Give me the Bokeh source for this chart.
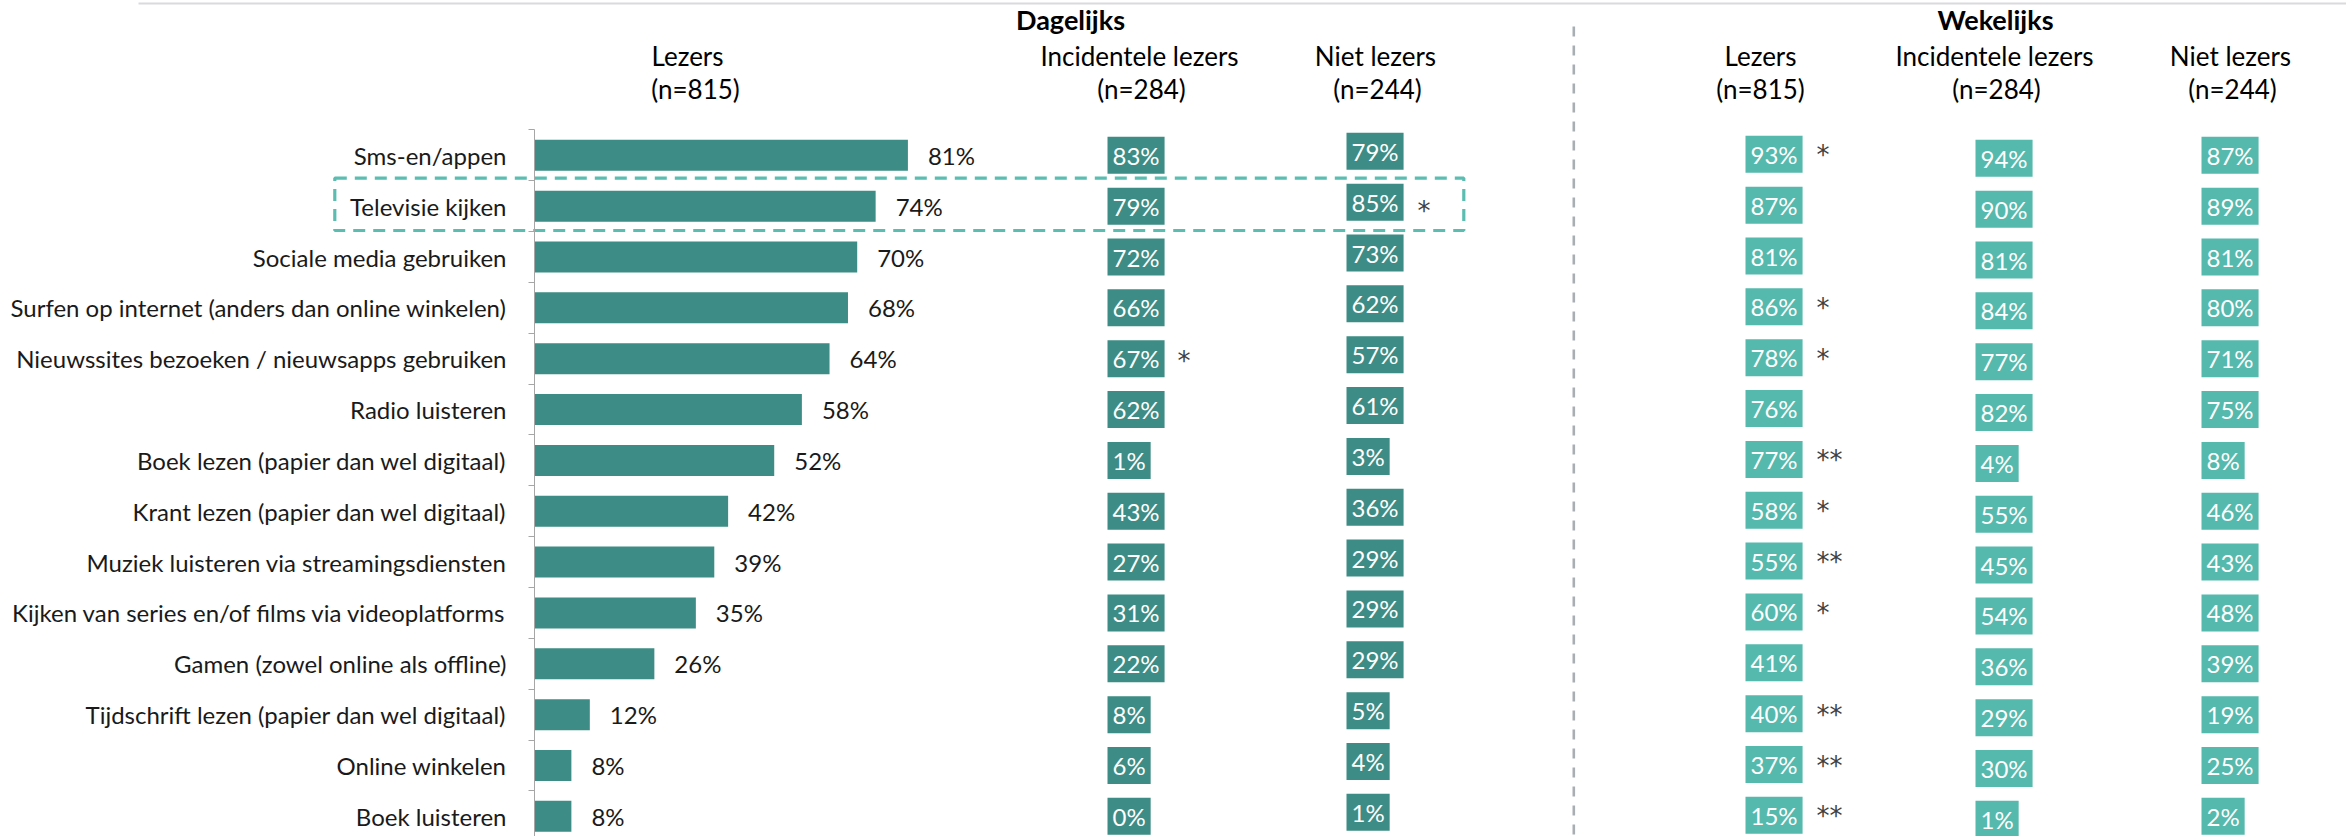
from bokeh.plotting import figure
from bokeh.models import Range1d, LinearAxis, FixedTicker, ColumnDataSource
from bokeh.core.properties import value
from bokeh.embed import file_html
from bokeh.resources import INLINE

# ---------------- data ----------------
categories = [
    "Sms-en/appen",
    "Televisie kijken",
    "Sociale media gebruiken",
    "Surfen op internet (anders dan online winkelen)",
    "Nieuwssites bezoeken / nieuwsapps gebruiken",
    "Radio luisteren",
    "Boek lezen (papier dan wel digitaal)",
    "Krant lezen (papier dan wel digitaal)",
    "Muziek luisteren via streamingsdiensten",
    "Kijken van series en/of films via videoplatforms",
    "Gamen (zowel online als offline)",
    "Tijdschrift lezen (papier dan wel digitaal)",
    "Online winkelen",
    "Boek luisteren",
]
dag_lezers = [81, 74, 70, 68, 64, 58, 52, 42, 39, 35, 26, 12, 8, 8]
dag_incidenteel = [83, 79, 72, 66, 67, 62, 1, 43, 27, 31, 22, 8, 6, 0]
dag_niet = [79, 85, 73, 62, 57, 61, 3, 36, 29, 29, 29, 5, 4, 1]
wek_lezers = [93, 87, 81, 86, 78, 76, 77, 58, 55, 60, 41, 40, 37, 15]
wek_incidenteel = [94, 90, 81, 84, 77, 82, 4, 55, 45, 54, 36, 29, 30, 1]
wek_niet = [87, 89, 81, 80, 71, 75, 8, 46, 43, 48, 39, 19, 25, 2]

dag_incidenteel_sig = ["", "", "", "", "*", "", "", "", "", "", "", "", "", ""]
dag_niet_sig = ["", "*", "", "", "", "", "", "", "", "", "", "", "", ""]
wek_lezers_sig = ["*", "", "", "*", "*", "", "**", "*", "**", "*", "", "**", "**", "**"]

periods = ["Dagelijks", "Wekelijks"]
groups = ["Lezers", "Incidentele lezers", "Niet lezers"]
group_n = ["(n=815)", "(n=284)", "(n=244)"]
highlight_category = "Televisie kijken"

# ---------------- layout / style ----------------
W, H = 2346, 836
AXIS_X = 534          # pixel position of the bar baseline
PX_PER_PCT = 4.61     # bar length per percent
ROW0_Y = 154.8        # pixel centre of the first category row
ROW_PITCH = 50.85     # pixel distance between rows

DARK = "#3d8c85"
LIGHT = "#55b9ad"
HILITE = "#5bbdb1"
TXT = "#1a1a1a"
STAR = "#404040"
FONT = "Lato"

rows = list(range(len(categories)))

p = figure(
    width=W, height=H, output_backend="svg", toolbar_location=None, title=None,
    x_range=Range1d((0 - AXIS_X) / PX_PER_PCT, (W - AXIS_X) / PX_PER_PCT),
    y_range=Range1d((H - ROW0_Y) / ROW_PITCH, (0 - ROW0_Y) / ROW_PITCH),
    x_axis_location=None, y_axis_location=None,
    min_border=0, min_border_left=0, min_border_right=0, min_border_top=0, min_border_bottom=0,
    outline_line_color=None, background_fill_color="white", border_fill_color="white",
)
p.extra_x_ranges = {"px": Range1d(0, W)}
p.extra_y_ranges = {"py": Range1d(H, 0)}
p.xgrid.grid_line_color = None
p.ygrid.grid_line_color = None

# category axis drawn at the bar baseline
yaxis = LinearAxis(
    fixed_location=0,
    ticker=FixedTicker(ticks=rows, minor_ticks=[r - 0.5 for r in rows] + [len(rows) - 0.5]),
    major_label_overrides={r: c for r, c in zip(rows, categories)},
    bounds=(-0.5, len(rows) - 0.5),
    major_tick_line_color=None, major_tick_out=0, major_tick_in=0,
    minor_tick_out=6, minor_tick_in=0, minor_tick_line_color="#a6a6a6",
    axis_line_color="#a6a6a6", axis_line_width=1,
    major_label_standoff=22,
    major_label_text_font=FONT, major_label_text_font_size="24px",
    major_label_text_color=TXT,
)
p.add_layout(yaxis, "left")

src = ColumnDataSource(dict(
    row=rows,
    dl=dag_lezers, dl_txt=[f"{v}%" for v in dag_lezers],
))

# top rule and period separator
p.segment(x0=[138], y0=[3], x1=[W], y1=[3], x_range_name="px", y_range_name="py",
          line_color="#d9d9de", line_width=2)
p.segment(x0=[1573.3], y0=[26], x1=[1573.3], y1=[H + 5], x_range_name="px", y_range_name="py",
          line_color="#a9aeb3", line_width=2.6, line_dash="10 9")

# highlight box around one category row
hl = categories.index(highlight_category)
p.quad(left=[334.3], right=[1463.3], top=[hl - 0.552], bottom=[hl + 0.479],
       x_range_name="px", fill_color=None, line_color=HILITE, line_width=3.2,
       line_dash="12 8")

# bars for daily readers
p.hbar(y="row", left=0, right="dl", height=0.61, source=src, fill_color=DARK, line_color=None)
p.text(x="dl", y="row", text="dl_txt", source=src, x_offset=20, text_align="left",
       text_baseline="middle", text_font=value(FONT), text_font_size="24px", text_color=TXT)

# boxed value columns: (values, box left px, colour, box y-offset, markers, marker x, marker y-offset)
PAD = (5, 4)
columns = [
    (dag_incidenteel, 1107, DARK, 0, dag_incidenteel_sig, 1177, 2.5),
    (dag_niet, 1346, DARK, -4, dag_niet_sig, 1417, 4.5),
    (wek_lezers, 1745, LIGHT, -1, wek_lezers_sig, 1816, 0.0),
    (wek_incidenteel, 1975, LIGHT, 3, None, None, None),
    (wek_niet, 2201, LIGHT, 0, None, None, None),
]
for vals, box_left, color, yoff, sig, sig_x, sig_off in columns:
    cs = ColumnDataSource(dict(row=rows, txt=[f"{v}%" for v in vals]))
    p.text(x=box_left, y="row", text="txt", source=cs, x_range_name="px",
           y_offset=yoff, text_align="left", text_baseline="middle",
           text_font=value(FONT), text_font_size="24px", text_color="white",
           background_fill_color=color, padding=PAD)
    if sig is not None:
        ss = ColumnDataSource(dict(row=rows, txt=sig))
        p.text(x=sig_x, y="row", text="txt", source=ss, x_range_name="px",
               y_offset=sig_off, text_align="left", text_baseline="middle",
               text_font=value("DejaVu Sans"), text_font_size="26px", text_color=STAR)

# headers (y = vertical centre of the capitals, in pixels)
period_x = [1070, 1995]
p.text(x=period_x, y=[19, 19], text=periods, x_range_name="px", y_range_name="py",
       text_align="center", text_baseline="middle", text_font=value(FONT),
       text_font_style="bold", text_font_size="27px", text_color="black")
head_x = [687, 1139, 1375, 1760, 1994, 2230]
n_x = [695, 1141, 1377, 1760, 1996, 2232]
p.text(x=head_x, y=[55.5] * 6, text=groups * 2, x_range_name="px", y_range_name="py",
       text_align="center", text_baseline="middle", text_font=value(FONT),
       text_font_size="26px", text_color="black")
p.text(x=n_x, y=[88] * 6, text=group_n * 2, x_range_name="px", y_range_name="py",
       text_align="center", text_baseline="middle", text_font=value(FONT),
       text_font_size="26px", text_color="black")

open("out.html", "w").write(file_html(p, INLINE))
